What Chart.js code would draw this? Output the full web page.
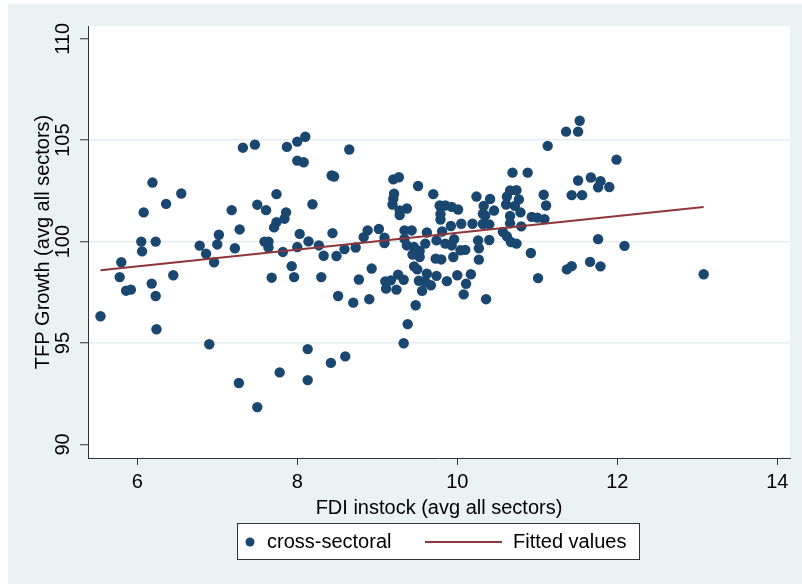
<!DOCTYPE html>
<html lang="en">
  <head>
    <meta charset="utf-8" />
    <title>TFP Growth x FDI instock</title>
    <script src="https://cdn.jsdelivr.net/npm/chart.js"></script>
    <style>
      html, body { margin: 0; padding: 0; background: #fff; }
      #grafico { display: block; }
    </style>
  </head>
  <body>
    <canvas id="grafico" width="802" height="584"></canvas>
    <script>
      // FDI instock (eixo x) e TFP growth (eixo y)
      var fdiX = [
        5.54, 5.80, 5.78, 5.86, 5.92, 6.18, 6.23, 6.45, 6.24, 6.06,
        6.05, 6.23, 6.08, 6.19, 6.36, 6.55, 6.90, 6.86, 6.96, 6.78,
        7.02, 7.00, 7.22, 7.18, 7.28, 7.27, 7.78, 7.50, 7.68, 7.82,
        7.93, 7.96, 7.32, 7.47, 7.87, 8.00, 8.00, 7.50, 7.61, 7.74,
        7.86, 7.84, 7.74, 7.71, 7.59, 7.64, 7.64, 8.03, 8.00,
        8.10, 8.08, 8.65, 8.43, 8.46, 8.19, 8.14, 8.27, 8.33, 8.49,
        8.59, 8.73, 8.44, 8.83, 8.88, 8.30, 8.77, 8.93, 8.51, 8.70,
        8.90, 8.13, 8.42, 8.60, 8.13,
        9.02, 9.09, 9.09, 9.20, 9.27, 9.51, 9.70, 9.21, 9.20, 9.19,
        9.28, 9.37, 9.28, 9.78, 9.85, 9.93, 10.01, 9.79, 9.79, 9.92,
        10.05, 9.34, 9.43, 9.62, 9.81, 9.34, 9.37, 9.46, 9.53, 9.60,
        9.74, 9.85, 9.93, 9.44, 9.53, 9.73, 9.80, 9.95, 9.46, 9.50,
        9.10, 9.17, 9.26, 9.33, 9.24, 9.11, 9.52, 9.60, 9.62, 9.74,
        9.87, 10.00, 9.67, 9.56, 9.48, 9.38, 9.33, 10.04,
        10.69, 10.88, 10.24, 10.41, 10.33, 10.46, 10.66, 10.74, 10.62, 10.77,
        10.61, 10.72, 10.79, 10.66, 10.93, 11.00, 11.09, 10.32, 10.35, 10.19,
        10.32, 10.40, 10.66, 10.80, 10.57, 10.62, 10.67, 10.74, 10.26, 10.40,
        10.27, 10.10, 9.96, 10.92, 11.76, 12.09, 11.66, 10.27, 10.17, 10.11,
        10.08, 10.36, 11.01, 11.37, 11.43, 11.79, 11.08, 11.11, 11.13, 11.36,
        11.51, 11.53, 11.99, 11.51, 11.67, 11.79, 11.76, 11.90, 11.43, 11.56,
        13.08
      ];
      var tfpY = [
        96.32, 98.98, 98.25, 97.58, 97.63, 97.93, 97.32, 98.34, 95.68, 99.52,
        100.00, 100.00, 101.44, 102.91, 101.86, 102.37, 94.94, 99.40, 98.98, 99.80,
        100.34, 99.86, 99.67, 101.55, 100.60, 93.03, 93.55, 91.84, 98.22, 99.49,
        98.79, 98.25, 104.63, 104.78, 104.67, 104.93, 103.99, 101.82, 101.55, 102.34,
        101.44, 101.13, 100.96, 100.70, 100.00, 100.00, 99.71, 100.38, 99.73,
        105.17, 103.91, 104.54, 103.26, 103.21, 101.84, 100.01, 99.81, 99.30, 99.29,
        99.63, 99.71, 100.42, 100.22, 100.55, 98.25, 98.13, 98.67, 97.32, 96.99,
        97.16, 94.70, 94.02, 94.34, 93.17,
        100.62, 100.19, 99.93, 103.07, 103.17, 102.74, 102.34, 102.36, 102.11, 101.83,
        101.53, 101.63, 101.31, 101.78, 101.78, 101.71, 101.58, 101.36, 101.09, 100.77,
        100.88, 100.55, 100.55, 100.45, 100.50, 100.14, 99.81, 99.73, 99.54, 99.90,
        100.06, 99.90, 99.81, 99.36, 99.24, 99.16, 99.12, 99.24, 98.78, 98.63,
        98.04, 98.09, 98.37, 98.12, 97.63, 97.68, 98.07, 98.02, 98.42, 98.31,
        98.05, 98.34, 97.85, 97.57, 96.86, 95.93, 94.99, 99.57,
        103.40, 103.40, 102.22, 102.10, 101.76, 101.53, 102.52, 102.53, 102.22, 102.08,
        101.83, 101.76, 101.44, 101.26, 101.22, 101.18, 101.11, 101.37, 101.29, 100.88,
        100.87, 100.85, 100.90, 100.75, 100.48, 100.26, 99.98, 99.90, 100.06, 100.08,
        99.67, 99.59, 100.12, 99.44, 100.12, 99.79, 99.00, 99.11, 98.39, 97.92,
        97.40, 97.16, 98.20, 98.63, 98.79, 98.78, 102.31, 101.78, 104.72, 105.42,
        105.42, 105.96, 104.04, 103.01, 103.16, 102.98, 102.68, 102.69, 102.29, 102.29,
        98.39
      ];
      // reta ajustada (pontas)
      var fitX = [5.54, 13.08];
      var fitY = [98.59, 101.70];

      var xTicks = [6, 8, 10, 12, 14];
      var yTicks = [90, 95, 100, 105, 110];
      var yGrid = [95, 100, 105];

      var NAVY = '#1A476F';
      var MAROON = '#90353B';
      var FUNDO = '#EAF2F3';

      Chart.defaults.font.family = '"Liberation Sans", Arial, sans-serif';
      Chart.defaults.font.size = 20;
      Chart.defaults.color = '#000';

      var pontos = fdiX.map(function (x, i) { return { x: x, y: tfpY[i] }; });
      var reta = fitX.map(function (x, i) { return { x: x, y: fitY[i] }; });

      // fundo azulado e area do grafico branca
      var fundo = {
        id: 'fundo',
        beforeDraw: function (chart) {
          var ctx = chart.ctx, a = chart.chartArea;
          ctx.save();
          ctx.fillStyle = '#fff';
          ctx.fillRect(0, 0, chart.width, chart.height);
          ctx.fillStyle = FUNDO;
          ctx.fillRect(8, 4, chart.width - 8, chart.height - 4);
          ctx.fillStyle = '#fff';
          ctx.fillRect(a.left, a.top, a.right - a.left, a.bottom - a.top);
          ctx.restore();
        }
      };

      // legenda em caixa, estilo Stata
      var legenda = {
        id: 'legenda',
        afterDraw: function (chart) {
          var ctx = chart.ctx;
          var cy = 542;
          ctx.save();
          ctx.fillStyle = '#fff';
          ctx.fillRect(237, 523, 403, 37);
          ctx.strokeStyle = '#333';
          ctx.lineWidth = 1;
          ctx.strokeRect(237.5, 523.5, 402, 36);
          ctx.fillStyle = NAVY;
          ctx.beginPath();
          ctx.arc(250, cy, 4.5, 0, Math.PI * 2);
          ctx.fill();
          ctx.strokeStyle = MAROON;
          ctx.lineWidth = 2;
          ctx.beginPath();
          ctx.moveTo(425, cy);
          ctx.lineTo(502, cy);
          ctx.stroke();
          ctx.fillStyle = '#000';
          ctx.font = '20px "Liberation Sans", Arial, sans-serif';
          ctx.textBaseline = 'middle';
          ctx.fillText(chart.data.datasets[0].label, 267, cy);
          ctx.fillText(chart.data.datasets[1].label, 513, cy);
          ctx.restore();
        }
      };

      var ctx = document.getElementById('grafico').getContext('2d');
      var grafico = new Chart(ctx, {
        type: 'scatter',
        data: {
          datasets: [{
            label: 'cross-sectoral',
            data: pontos,
            backgroundColor: NAVY,
            borderColor: NAVY,
            borderWidth: 0,
            pointRadius: 5.2,
            pointHoverRadius: 5.2,
            order: 1
          }, {
            label: 'Fitted values',
            data: reta,
            showLine: true,
            borderColor: MAROON,
            borderWidth: 2,
            pointRadius: 0,
            fill: false,
            order: 0
          }]
        },
        options: {
          responsive: false,
          animation: false,
          devicePixelRatio: 1,
          layout: { padding: { top: 26, right: 12, left: 0, bottom: 0 } },
          plugins: {
            legend: { display: false },
            tooltip: { enabled: false }
          },
          scales: {
            x: {
              type: 'linear',
              min: 5.384,
              max: 14.159,
              afterBuildTicks: function (s) { s.ticks = xTicks.map(function (v) { return { value: v }; }); },
              afterFit: function (s) { s.height = 126; },
              grid: { drawOnChartArea: false, tickLength: 7, tickColor: '#333', tickWidth: 1 },
              border: { display: true, color: '#333', width: 1 },
              ticks: { padding: 5, maxRotation: 0, minRotation: 0, color: '#000' },
              title: {
                display: true,
                text: 'FDI instock (avg all sectors)',
                color: '#000',
                padding: { top: 0, bottom: 64 }
              }
            },
            y: {
              type: 'linear',
              min: 89.33,
              max: 110.63,
              afterBuildTicks: function (s) { s.ticks = yTicks.map(function (v) { return { value: v }; }); },
              afterFit: function (s) { s.width = 88; },
              grid: {
                color: function (c) {
                  return c.tick && yGrid.indexOf(c.tick.value) >= 0 ? '#E4EDEF' : 'rgba(0,0,0,0)';
                },
                lineWidth: 1.5,
                tickLength: 8,
                tickColor: '#333',
                tickWidth: 1
              },
              border: { display: true, color: '#333', width: 1 },
              ticks: { padding: 0, minRotation: 90, maxRotation: 90, crossAlign: 'center', color: '#000' },
              title: {
                display: true,
                text: 'TFP Growth (avg all sectors)',
                color: '#000',
                padding: { top: 31, bottom: 0 }
              }
            }
          }
        },
        plugins: [fundo, legenda]
      });
    </script>
  </body>
</html>
